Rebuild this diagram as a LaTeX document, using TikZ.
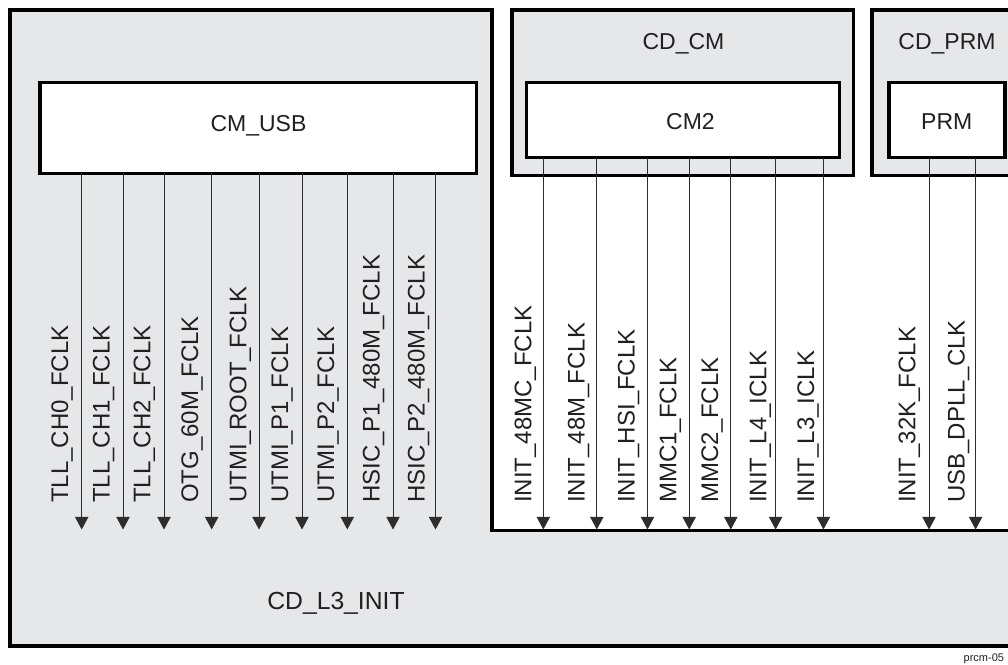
\documentclass[tikz,border=0pt]{standalone}
\usepackage{fontspec}
\setmainfont{Liberation Sans}
\usetikzlibrary{arrows.meta}
\definecolor{regiongray}{RGB}{230,231,232}
\definecolor{inkc}{RGB}{35,31,32}
\definecolor{wirec}{RGB}{45,45,45}
\tikzset{
  region/.style={draw=black, fill=regiongray, line width=3.4pt, line join=miter},
  blockbox/.style={draw=black, fill=white, line width=3.4pt, line join=miter},
  titletext/.style={inner sep=0pt, anchor=base, text=inkc, font=\fontsize{23}{27}\selectfont},
  clklabel/.style={inner sep=0pt, anchor=base west, rotate=90, text=inkc, font=\fontsize{24}{28}\selectfont},
  clkwire/.style={draw=wirec, line width=1pt, -{Triangle[length=12.6pt,width=13.3pt]}},
  tagtext/.style={inner sep=0pt, anchor=base west, text=inkc, font=\fontsize{11}{13}\selectfont}
}
\begin{document}
\begin{tikzpicture}[x=1pt,y=-1pt]
\useasboundingbox (0,0) rectangle (1008,664);
\fill[white] (0,0) rectangle (1008,664);
% outer domain CD_L3_INIT
\draw[region] (10,10) -- (492,10) -- (492,530.5) -- (1030,530.5) -- (1030,646) -- (10,646) -- cycle;
% CD_CM and CD_PRM domains
\draw[region] (512,10) rectangle (853.7,175.5);
\draw[region] (872,10) rectangle (1030,175.5);
% blocks
\node[blockbox, minimum width=436.7pt, minimum height=91pt, inner sep=0pt, outer sep=0pt] (cmusb) at (258.35,127.8) {};
\node[blockbox, minimum width=313.1pt, minimum height=75.1pt, inner sep=0pt, outer sep=0pt] (cmtwo) at (683.05,120.05) {};
\node[blockbox, minimum width=116pt, minimum height=75.1pt, inner sep=0pt, outer sep=0pt] (prm) at (947,120.05) {};
% titles
\node[titletext] (tusb) at (258.5,131.5) {CM\_USB};
\node[titletext] (tcdcm) at (683.5,49.6) {CD\_CM};
\node[titletext] (tcm2) at (690.5,129.5) {CM2};
\node[titletext] (tcdprm) at (947,49.6) {CD\_PRM};
\node[titletext] (tprm) at (946.7,129.5) {PRM};
\node[titletext, font=\fontsize{24.7}{29}\selectfont] (tl3) at (336,609.3) {CD\_L3\_INIT};
\node[tagtext] (tag) at (963.5,661) {prcm-05};
% arrow end points
\foreach \n/\x in {a1/81.7,a2/123,a3/164,a4/211.7,a5/259,a6/302,a7/347.3,a8/393,a9/435.5,
                   b1/543.3,b2/596.8,b3/647.5,b4/689.2,b5/730.8,b6/775.6,b7/823.4,
                   c1/929,c2/975.6}
  \coordinate (\n) at (\x,529.5);
% CM_USB clocks
\foreach \n in {a1,a2,a3,a4,a5,a6,a7,a8,a9}
  \draw[clkwire] (cmusb.south -| \n) -- (\n);
% CM2 clocks
\foreach \n in {b1,b2,b3,b4,b5,b6,b7}
  \draw[clkwire] (cmtwo.south -| \n) -- (\n);
% PRM clocks
\foreach \n in {c1,c2}
  \draw[clkwire] (prm.south -| \n) -- (\n);
% labels
\node[clklabel] (l1) at (68,503) {TLL\_CH0\_FCLK};
\node[clklabel] (l2) at (109.7,503) {TLL\_CH1\_FCLK};
\node[clklabel] (l3) at (150.4,503) {TLL\_CH2\_FCLK};
\node[clklabel] (l4) at (198,503) {OTG\_60M\_FCLK};
\node[clklabel] (l5) at (246.4,503) {UTMI\_ROOT\_FCLK};
\node[clklabel] (l6) at (288,503) {UTMI\_P1\_FCLK};
\node[clklabel] (l7) at (334,503) {UTMI\_P2\_FCLK};
\node[clklabel] (l8) at (379.7,503) {HSIC\_P1\_480M\_FCLK};
\node[clklabel] (l9) at (424.7,503) {HSIC\_P2\_480M\_FCLK};
\node[clklabel] (l10) at (531.4,503) {INIT\_48MC\_FCLK};
\node[clklabel] (l11) at (584.7,503) {INIT\_48M\_FCLK};
\node[clklabel] (l12) at (634.7,503) {INIT\_HSI\_FCLK};
\node[clklabel] (l13) at (676.4,503) {MMC1\_FCLK};
\node[clklabel] (l14) at (718,503) {MMC2\_FCLK};
\node[clklabel] (l15) at (766.4,503) {INIT\_L4\_ICLK};
\node[clklabel] (l16) at (814,503) {INIT\_L3\_ICLK};
\node[clklabel] (l17) at (915.4,503) {INIT\_32K\_FCLK};
\node[clklabel] (l18) at (964.7,503) {USB\_DPLL\_CLK};
\end{tikzpicture}
\end{document}
